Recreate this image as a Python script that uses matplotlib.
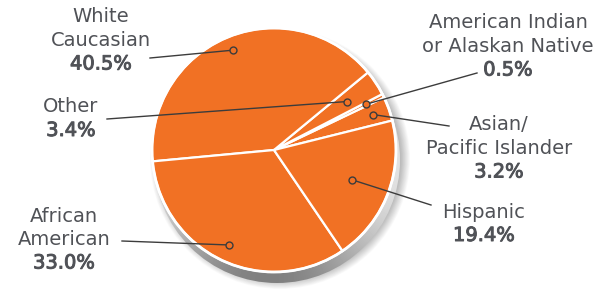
import numpy as np
import matplotlib.pyplot as plt
import matplotlib.patheffects as pe
from matplotlib.patches import Circle

plt.rcParams['font.family'] = ['DejaVu Sans']

# data (counter-clockwise from the right side)
groups = ['Asian/\nPacific Islander', 'American Indian\nor Alaskan Native', 'Other',
          'White\nCaucasian', 'African\nAmerican', 'Hispanic']
shares = [3.2, 0.5, 3.4, 40.5, 33.0, 19.4]
pct_labels = ['3.2%', '0.5%', '3.4%', '40.5%', '33.0%', '19.4%']

W, H = 613, 295
orange = '#f17124'
txt = '#505257'
line = '#3c3c3c'

# label layout (image pixel coords, y down): first-line centre, leader start, dot radius
text_pos = [(499, 125), (508, 23), (71, 107), (101, 17), (64, 216), (484, 212)]
leader_from = [(449, 126), (477, 73), (107, 119), (150, 58), (122, 241), (431, 205)]
dot_r = [105, 103, 88, 108, 105, 83]

cx, cy, R = 274, H - 150, 122

fig = plt.figure(figsize=(W / 100, H / 100), dpi=100)
ax = fig.add_axes([0, 0, 1, 1])

# soft drop shadow
for i in range(14):
    ax.add_patch(Circle((cx + 6, cy - 9), R + 8 - i * 0.7, color='black',
                        alpha=0.018, lw=0, zorder=1))

# grey side of the disc with gradient
yy, xx = np.mgrid[0:H, 0:W]
gx, gy = cx + 3, cy - 10
phi = np.arctan2((H - yy) - gy, xx - gx)
shade = 0.88 - 0.38 * np.clip(np.cos(phi - np.deg2rad(-95)), 0, 1) ** 2
im = ax.imshow(shade, cmap='gray', vmin=0, vmax=1, extent=(0, W, 0, H),
               origin='upper', zorder=2, interpolation='bilinear')
rim = Circle((gx, gy), R + 1, transform=ax.transData, fc='none', ec='none')
ax.add_patch(rim)
im.set_clip_path(rim)

wedges, _ = ax.pie(shares, center=(cx, cy), radius=R, startangle=14,
                   counterclock=True, colors=[orange] * len(shares),
                   wedgeprops=dict(edgecolor='white', linewidth=1.6), frame=True)
for w in wedges:
    w.set_zorder(3)
ax.add_patch(Circle((cx, cy), R, fc='none', ec='white', lw=2, zorder=4))

medium = [pe.withStroke(linewidth=0.7, foreground=txt)]
fs = 14
for w, name, pct, tp, lf, r in zip(wedges, groups, pct_labels, text_pos, leader_from, dot_r):
    mid = np.deg2rad((w.theta1 + w.theta2) / 2)
    dx, dy = cx + r * np.cos(mid), cy + r * np.sin(mid)
    ax.plot([lf[0], dx], [H - lf[1], dy], color=line, lw=1, zorder=5)
    ax.plot(dx, dy, 'o', ms=5, mfc=orange, mec=line, mew=1, zorder=6)
    nlines = name.count('\n') + 1
    y0 = H - tp[1]
    for k, part in enumerate(name.split('\n')):
        ax.text(tp[0], y0 - k * 23.5, part, ha='center', va='center',
                fontsize=fs, color=txt)
    ax.text(tp[0], y0 - nlines * 23.5, pct, ha='center', va='center',
            fontsize=fs, color=txt, path_effects=medium)

ax.set_xlim(0, W)
ax.set_ylim(0, H)
ax.set_aspect('auto')
ax.axis('off')
fig.savefig('out.png', dpi=100)
